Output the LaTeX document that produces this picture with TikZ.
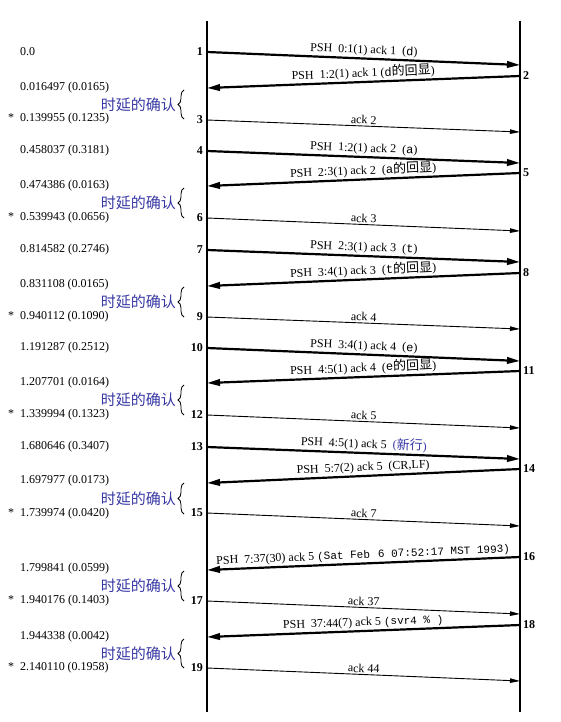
\documentclass[tikz,border=0pt]{standalone}
\usepackage{fontspec}
\setmainfont{Liberation Serif}
\setmonofont{Liberation Mono}
\newfontfamily\cjk{Noto Sans CJK SC}
\usetikzlibrary{arrows.meta,decorations.pathreplacing}
\definecolor{noteblue}{RGB}{55,55,165}

\tikzset{
  lifeline/.style={line width=1.1pt},
  datamsg/.style={line width=2.2pt, -{Triangle[length=13pt,width=6.5pt]}},
  ackmsg/.style={line width=0.9pt, -{Triangle[length=10pt,width=4.5pt]}},
  msglabel/.style={midway, above, sloped, inner sep=1.5pt, font=\fontsize{12}{14}\selectfont},
  stamp/.style={anchor=west, inner sep=0pt, font=\fontsize{12}{14}\selectfont},
  star/.style={anchor=west, inner sep=0pt, font=\fontsize{12}{14}\selectfont},
  seqL/.style={anchor=east, inner sep=0pt, font=\fontsize{12}{14}\selectfont\bfseries},
  seqR/.style={anchor=west, inner sep=0pt, font=\fontsize{12}{14}\selectfont\bfseries},
  delaynote/.style={anchor=east, inner sep=0pt, text=noteblue, font=\cjk\fontsize{15}{17}\selectfont},
  delaybrace/.style={decorate, decoration={brace, amplitude=6pt}, line width=0.8pt},
}
\newcommand{\zh}[1]{{\cjk\fontsize{13}{15}\selectfont #1}}

\begin{document}
\begin{tikzpicture}[x=1pt, y=-1pt]
\useasboundingbox (0,0) rectangle (560,722);

% the two hosts
\coordinate (ltop) at (207,21);
\coordinate (lbot) at (207,712);
\coordinate (rtop) at (520,21);
\coordinate (rbot) at (520,712);
\draw[lifeline] (ltop) -- (lbot);
\draw[lifeline] (rtop) -- (rbot);

% segment end points on the client (a) and server (b) lines
\foreach \n/\ya/\yb in {1/52/65, 2/88/76, 3/120/132, 4/151/163, 5/186/173,
  6/218/231, 7/250/262, 8/286/273, 9/317/329, 10/348/361, 11/383/371,
  12/415/428, 13/447/459, 14/483/469, 15/513/526, 16/570/557, 17/601/614,
  18/637/625, 19/668/681}{
  \coordinate (a\n) at (207,\ya);
  \coordinate (b\n) at (520,\yb);
}

% segments
\draw[datamsg] (a1) -- (b1) node[msglabel] {PSH\ \ 0:1(1) ack 1 \ (\texttt{d})};
\draw[datamsg] (b2) -- (a2) node[msglabel] {PSH\ \ 1:2(1) ack 1 (\texttt{d}\zh{的回显})};
\draw[ackmsg]  (a3) -- (b3) node[msglabel] {ack 2};
\draw[datamsg] (a4) -- (b4) node[msglabel] {PSH\ \ 1:2(1) ack 2 \ (\texttt{a})};
\draw[datamsg] (b5) -- (a5) node[msglabel] {PSH\ \ 2:3(1) ack 2 \ (\texttt{a}\zh{的回显})};
\draw[ackmsg]  (a6) -- (b6) node[msglabel] {ack 3};
\draw[datamsg] (a7) -- (b7) node[msglabel] {PSH\ \ 2:3(1) ack 3 \ (\texttt{t})};
\draw[datamsg] (b8) -- (a8) node[msglabel] {PSH\ \ 3:4(1) ack 3 \ (\texttt{t}\zh{的回显})};
\draw[ackmsg]  (a9) -- (b9) node[msglabel] {ack 4};
\draw[datamsg] (a10) -- (b10) node[msglabel] {PSH\ \ 3:4(1) ack 4 \ (\texttt{e})};
\draw[datamsg] (b11) -- (a11) node[msglabel] {PSH\ \ 4:5(1) ack 4 \ (\texttt{e}\zh{的回显})};
\draw[ackmsg]  (a12) -- (b12) node[msglabel] {ack 5};
\draw[datamsg] (a13) -- (b13) node[msglabel] {PSH\ \ 4:5(1) ack 5 \ {\color{noteblue}(\zh{新行})}};
\draw[datamsg] (b14) -- (a14) node[msglabel] {PSH\ \ 5:7(2) ack 5 \ (CR,LF)};
\draw[ackmsg]  (a15) -- (b15) node[msglabel] {ack 7};
\draw[datamsg] (b16) -- (a16) node[msglabel] {PSH\ \ 7:37(30) ack 5 {\ttfamily\fontsize{11}{13}\selectfont(Sat Feb\hspace{1.5pt} 6 07:52:17 MST 1993)}};
\draw[ackmsg]  (a17) -- (b17) node[msglabel] {ack 37};
\draw[datamsg] (b18) -- (a18) node[msglabel] {PSH\ \ 37:44(7) ack 5 {\ttfamily\fontsize{11}{13}\selectfont(svr4 \% )}};
\draw[ackmsg]  (a19) -- (b19) node[msglabel] {ack 44};

% segment numbers
\foreach \n/\y in {1/52, 3/120, 4/151, 6/218, 7/250, 9/317, 10/348,
  12/415, 13/447, 15/513, 17/601, 19/668}{
  \node[seqL] (nl\n) at (203,\y) {\n};
}
\foreach \n/\y in {2/76, 5/173, 8/273, 11/371, 14/469, 16/557, 18/625}{
  \node[seqR] (nr\n) at (523,\y) {\n};
}

% time stamps (delta in parentheses)
\node[stamp] (t1)  at (20,52)  {0.0};
\node[stamp] (t2)  at (20,88)  {0.016497 (0.0165)};
\node[stamp] (t3)  at (20,119) {0.139955 (0.1235)};
\node[stamp] (t4)  at (20,151) {0.458037 (0.3181)};
\node[stamp] (t5)  at (20,186) {0.474386 (0.0163)};
\node[stamp] (t6)  at (20,218) {0.539943 (0.0656)};
\node[stamp] (t7)  at (20,250) {0.814582 (0.2746)};
\node[stamp] (t8)  at (20,285) {0.831108 (0.0165)};
\node[stamp] (t9)  at (20,317) {0.940112 (0.1090)};
\node[stamp] (t10) at (20,348) {1.191287 (0.2512)};
\node[stamp] (t11) at (20,383) {1.207701 (0.0164)};
\node[stamp] (t12) at (20,415) {1.339994 (0.1323)};
\node[stamp] (t13) at (20,447) {1.680646 (0.3407)};
\node[stamp] (t14) at (20,481) {1.697977 (0.0173)};
\node[stamp] (t15) at (20,514) {1.739974 (0.0420)};
\node[stamp] (t16) at (20,569) {1.799841 (0.0599)};
\node[stamp] (t17) at (20,601) {1.940176 (0.1403)};
\node[stamp] (t18) at (20,637) {1.944338 (0.0042)};
\node[stamp] (t19) at (20,668) {2.140110 (0.1958)};

% delayed ACKs: star, brace and note
\foreach \k/\ya/\yb in {1/88/119, 2/186/218, 3/285/317, 4/383/415,
  5/481/514, 6/569/601, 7/637/668}{
  \node[star] (s\k) at (8,\yb-1) {*};
  \coordinate (bl\k) at (184,\yb);
  \coordinate (bh\k) at (184,\ya+2);
  \draw[delaybrace] (bl\k) -- (bh\k);
  \node[delaynote] (d\k) at (176,{(\ya+\yb)/2+1}) {时延的确认};
}
\end{tikzpicture}
\end{document}
